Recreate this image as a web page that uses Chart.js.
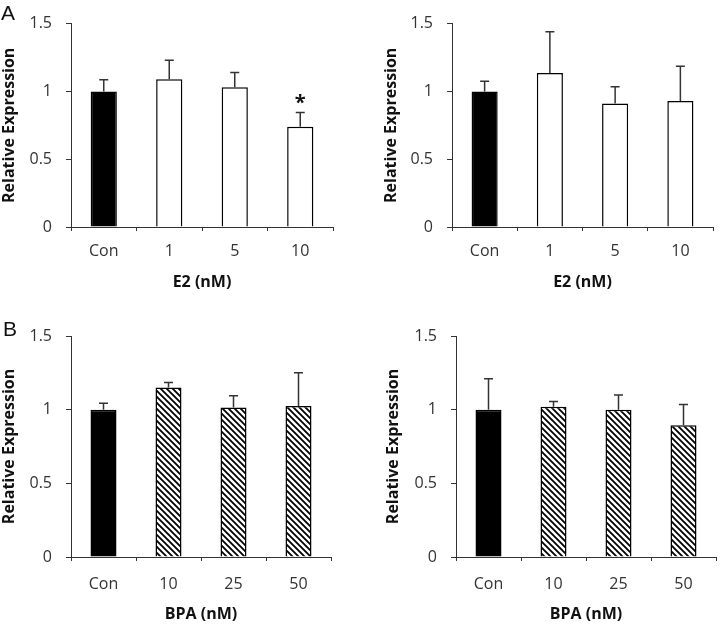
<!DOCTYPE html>
<html>
<head>
<meta charset="utf-8">
<script src="https://cdn.jsdelivr.net/npm/chart.js@4/dist/chart.umd.min.js"></script>
<style>
  body { margin: 0; background: #fff; }
  #wrap { position: relative; width: 720px; height: 626px; overflow: hidden; }
  canvas { position: absolute; }
</style>
</head>
<body>
<div id="wrap">
  <canvas id="aLeft" width="345" height="300" style="left:0;top:0"></canvas>
  <canvas id="aRight" width="360" height="300" style="left:360px;top:0"></canvas>
  <canvas id="bLeft" width="345" height="326" style="left:0;top:300px"></canvas>
  <canvas id="bRight" width="360" height="326" style="left:360px;top:300px"></canvas>
</div>
<script>
// values
const e2Labels = ['Con', '1', '5', '10'];
const bpaLabels = ['Con', '10', '25', '50'];

const e2LeftMean = [1.0, 1.09, 1.03, 0.74];
const e2LeftErr = [0.085, 0.14, 0.11, 0.105];
const e2LeftSig = ['', '', '', '*'];

const e2RightMean = [1.0, 1.135, 0.91, 0.93];
const e2RightErr = [0.075, 0.305, 0.125, 0.255];
const e2RightSig = ['', '', '', ''];

const bpaLeftMean = [1.0, 1.15, 1.015, 1.025];
const bpaLeftErr = [0.043, 0.035, 0.08, 0.225];
const bpaLeftSig = ['', '', '', ''];

const bpaRightMean = [1.0, 1.02, 1.0, 0.895];
const bpaRightErr = [0.21, 0.035, 0.1, 0.14];
const bpaRightSig = ['', '', '', ''];

const yTicks = [0, 0.5, 1, 1.5];

function hatchPattern() {
    let c = document.createElement('canvas');
    c.width = 6; c.height = 6;
    let g = c.getContext('2d');
    g.fillStyle = '#fff';
    g.fillRect(0, 0, 6, 6);
    g.strokeStyle = '#000';
    g.lineWidth = 1.8;
    g.beginPath();
    g.moveTo(-1, -1); g.lineTo(7, 7);
    g.moveTo(-4, 2); g.lineTo(4, 10);
    g.moveTo(2, -4); g.lineTo(10, 4);
    g.stroke();
    return g.createPattern(c, 'repeat');
}

const errorBars = {
    id: 'errorBars',
    afterDatasetsDraw(chart, args, opts) {
        let ctx = chart.ctx;
        let meta = chart.getDatasetMeta(0);
        let y = chart.scales.y;
        ctx.save();
        ctx.strokeStyle = '#333';
        ctx.lineWidth = 1.5;
        meta.data.forEach(function (bar, i) {
            let top = y.getPixelForValue(opts.means[i] + opts.errs[i]);
            ctx.beginPath();
            ctx.moveTo(bar.x, bar.y);
            ctx.lineTo(bar.x, top);
            ctx.moveTo(bar.x - 4.5, top);
            ctx.lineTo(bar.x + 4.5, top);
            ctx.stroke();
            if (opts.sig[i]) {
                ctx.fillStyle = '#111';
                ctx.font = 'bold 20px "Open Sans"';
                ctx.textAlign = 'center';
                ctx.textBaseline = 'alphabetic';
                ctx.fillText(opts.sig[i], bar.x, top - 3);
            }
        });
        if (opts.panel) {
            ctx.fillStyle = '#111';
            ctx.font = '21px "Liberation Sans"';
            ctx.textAlign = 'left';
            ctx.textBaseline = 'alphabetic';
            ctx.fillText(opts.panel.text, opts.panel.x, opts.panel.y);
        }
        ctx.restore();
    }
};

function makeChart(id, labels, means, errs, sig, hatched, xTitle, box, panel) {
    let rest = hatched ? hatchPattern() : '#fff';
    let fills = labels.map((l, i) => i === 0 ? '#000' : rest);
    let xAxisH = box.xTitle - box.bottom + 10;
    new Chart(document.getElementById(id), {
        type: 'bar',
        data: {
            labels: labels,
            datasets: [{
                data: means,
                backgroundColor: fills,
                borderColor: '#000',
                borderWidth: 1.5,
                categoryPercentage: 1,
                barPercentage: 0.4
            }]
        },
        options: {
            responsive: false,
            animation: false,
            layout: {
                padding: {
                    left: 0,
                    top: box.top,
                    right: box.w - box.right,
                    bottom: box.h - box.bottom - xAxisH
                }
            },
            plugins: {
                legend: { display: false },
                tooltip: { enabled: false },
                errorBars: { means: means, errs: errs, sig: sig, panel: panel }
            },
            scales: {
                x: {
                    grid: { offset: true, drawOnChartArea: false, drawTicks: true, tickLength: 4, color: '#333' },
                    border: { color: '#333', width: 1 },
                    ticks: { color: '#333', font: { family: 'Open Sans', size: 16 }, padding: box.tickPad },
                    title: { display: true, text: xTitle, color: '#111', font: { family: 'Open Sans', size: 16, weight: 'bold' }, padding: 0 },
                    afterFit: function (s) { s.height = xAxisH; }
                },
                y: {
                    min: 0,
                    max: 1.5,
                    afterBuildTicks: function (s) { s.ticks = yTicks.map(v => ({ value: v })); },
                    grid: { drawOnChartArea: false, drawTicks: true, tickLength: 5, color: '#333' },
                    border: { color: '#333', width: 1 },
                    ticks: {
                        color: '#333',
                        font: { family: 'Open Sans', size: 16 },
                        padding: 14,
                        callback: function (v) { return String(v); }
                    },
                    title: { display: true, text: 'Relative Expression', color: '#111', font: { family: 'Open Sans', size: 16, weight: 'bold' }, padding: { top: box.yTitle - 10, bottom: 0 } },
                    afterFit: function (s) { s.width = box.left; }
                }
            }
        },
        plugins: [errorBars]
    });
}

makeChart('aLeft', e2Labels, e2LeftMean, e2LeftErr, e2LeftSig, false, 'E2 (nM)',
    { w: 345, h: 300, left: 71, right: 333, top: 21, bottom: 227, yTitle: 10, xTitle: 282, tickPad: 11 },
    { text: 'A', x: 1, y: 20 });
makeChart('aRight', e2Labels, e2RightMean, e2RightErr, e2RightSig, false, 'E2 (nM)',
    { w: 360, h: 300, left: 92, right: 353, top: 21, bottom: 227, yTitle: 32, xTitle: 282, tickPad: 11 },
    null);
makeChart('bLeft', bpaLabels, bpaLeftMean, bpaLeftErr, bpaLeftSig, true, 'BPA (nM)',
    { w: 345, h: 326, left: 71, right: 331, top: 36, bottom: 257, yTitle: 10, xTitle: 314, tickPad: 14 },
    { text: 'B', x: 3, y: 36 });
makeChart('bRight', bpaLabels, bpaRightMean, bpaRightErr, bpaRightSig, true, 'BPA (nM)',
    { w: 360, h: 326, left: 96, right: 356, top: 36, bottom: 257, yTitle: 34, xTitle: 314, tickPad: 14 },
    null);
</script>
</body>
</html>
